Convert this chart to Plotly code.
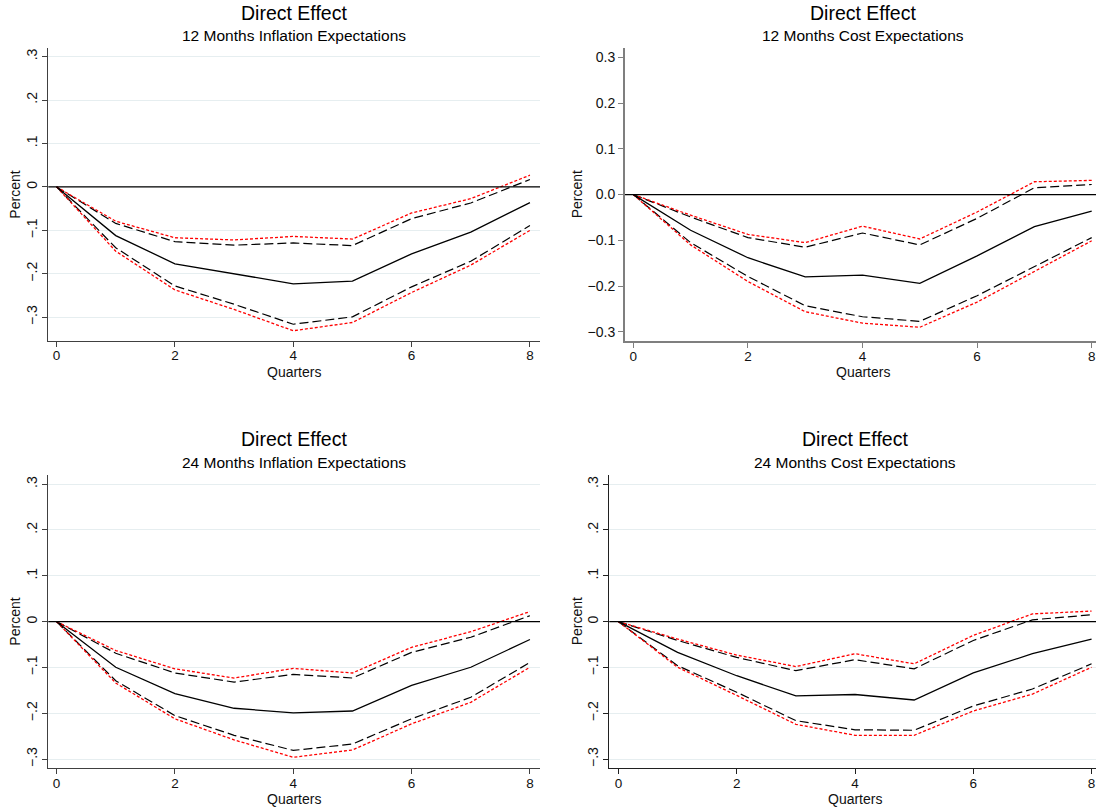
import plotly.graph_objects as go

W, H = 1096, 809

quarters = [0, 1, 2, 3, 4, 5, 6, 7, 8]
x_ticks = [0, 2, 4, 6, 8]
y_ticks = [-0.3, -0.2, -0.1, 0, 0.1, 0.2, 0.3]
y_text_short = ["\u2212.3", "\u2212.2", "\u2212.1", "0", ".1", ".2", ".3"]
y_text_long = ["\u22120.3", "\u22120.2", "\u22120.1", "0.0", "0.1", "0.2", "0.3"]

title_main = "Direct Effect"
subtitles = ["12 Months Inflation Expectations", "12 Months Cost Expectations",
             "24 Months Inflation Expectations", "24 Months Cost Expectations"]

# Panel 1: 12 months inflation expectations
p1_est = [0, -0.112, -0.177, -0.200, -0.223, -0.217, -0.154, -0.104, -0.036]
p1_up_dash = [0, -0.084, -0.126, -0.134, -0.129, -0.135, -0.073, -0.037, 0.017]
p1_up_red = [0, -0.079, -0.117, -0.122, -0.114, -0.120, -0.060, -0.027, 0.027]
p1_lo_dash = [0, -0.140, -0.228, -0.270, -0.316, -0.299, -0.230, -0.171, -0.089]
p1_lo_red = [0, -0.148, -0.237, -0.282, -0.331, -0.312, -0.243, -0.180, -0.100]

# Panel 2: 12 months cost expectations
p2_est = [0, -0.078, -0.138, -0.180, -0.176, -0.194, -0.134, -0.070, -0.036]
p2_up_dash = [0, -0.049, -0.094, -0.115, -0.084, -0.110, -0.052, 0.015, 0.022]
p2_up_red = [0, -0.045, -0.087, -0.105, -0.069, -0.097, -0.038, 0.028, 0.031]
p2_lo_dash = [0, -0.105, -0.179, -0.243, -0.267, -0.277, -0.221, -0.158, -0.094]
p2_lo_red = [0, -0.110, -0.190, -0.256, -0.281, -0.290, -0.235, -0.168, -0.101]

# Panel 3: 24 months inflation expectations
p3_est = [0, -0.0995, -0.157, -0.189, -0.199, -0.195, -0.139, -0.0995, -0.039]
p3_up_dash = [0, -0.069, -0.112, -0.132, -0.115, -0.123, -0.067, -0.034, 0.013]
p3_up_red = [0, -0.063, -0.103, -0.123, -0.102, -0.112, -0.056, -0.022, 0.022]
p3_lo_dash = [0, -0.129, -0.205, -0.248, -0.281, -0.267, -0.212, -0.165, -0.089]
p3_lo_red = [0, -0.134, -0.212, -0.258, -0.296, -0.280, -0.223, -0.176, -0.0995]

# Panel 4: 24 months cost expectations
p4_est = [0, -0.067, -0.118, -0.162, -0.159, -0.171, -0.112, -0.070, -0.038]
p4_up_dash = [0, -0.041, -0.078, -0.107, -0.083, -0.103, -0.041, 0.004, 0.015]
p4_up_red = [0, -0.038, -0.073, -0.098, -0.070, -0.092, -0.030, 0.017, 0.023]
p4_lo_dash = [0, -0.096, -0.154, -0.216, -0.236, -0.237, -0.184, -0.147, -0.092]
p4_lo_red = [0, -0.0995, -0.161, -0.224, -0.248, -0.248, -0.195, -0.158, -0.0995]

panels_data = [
    (p1_est, p1_up_dash, p1_lo_dash, p1_up_red, p1_lo_red),
    (p2_est, p2_up_dash, p2_lo_dash, p2_up_red, p2_lo_red),
    (p3_est, p3_up_dash, p3_lo_dash, p3_up_red, p3_lo_red),
    (p4_est, p4_up_dash, p4_lo_dash, p4_up_red, p4_lo_red),
]

# layout geometry in pixels: plot left, right, top, bottom
geom = [
    dict(l=48.3, r=540, t=48.3, b=341, xr=[-0.14, 8.17], yr=[-0.3546, 0.319],
         cx=294, ty=12.7, sy=35.7, qy=372, px=15, style="short", grid=True, axcol="#404040", axw=1.3),
    dict(l=625, r=1096, t=48.3, b=341, xr=[-0.145, 8.075], yr=[-0.32, 0.3197],
         cx=863, ty=12.7, sy=35.7, qy=372, px=576.7, style="long", grid=False, axcol="#7f7f7f", axw=2),
    dict(l=48.3, r=540, t=475, b=768.3, xr=[-0.14, 8.17], yr=[-0.32, 0.32],
         cx=294, ty=439.3, sy=462.7, qy=799, px=15, style="short", grid=True, axcol="#404040", axw=1.3),
    dict(l=609.3, r=1096, t=475, b=768.3, xr=[-0.155, 8.075], yr=[-0.32, 0.32],
         cx=855, ty=439.3, sy=462.7, qy=799, px=576.7, style="short", grid=True, axcol="#202020", axw=1.3),
]

FONT = "Liberation Sans, Arial, sans-serif"

fig = go.Figure()
layout = dict(width=W, height=H, margin=dict(l=0, r=0, t=0, b=0),
              paper_bgcolor="white", plot_bgcolor="white", showlegend=False,
              font=dict(family=FONT, color="black", size=14))
annotations = []
shapes = []

for i, (data, g) in enumerate(zip(panels_data, geom)):
    k = "" if i == 0 else str(i + 1)
    xa, ya = "x" + k, "y" + k
    est, up_d, lo_d, up_r, lo_r = data
    for ys, color, dash, w in [(up_d, "black", "9px,4px", 1.2), (lo_d, "black", "9px,4px", 1.2),
                               (up_r, "red", "3px,2px", 1.3), (lo_r, "red", "3px,2px", 1.3),
                               (est, "black", "solid", 1.3)]:
        fig.add_trace(go.Scatter(x=quarters, y=ys, mode="lines", xaxis=xa, yaxis=ya,
                                 line=dict(color=color, dash=dash, width=w), hoverinfo="skip"))
    xdom = [g["l"] / W, g["r"] / W]
    ydom = [1 - g["b"] / H, 1 - g["t"] / H]
    layout["xaxis" + k] = dict(domain=xdom, range=g["xr"], anchor=ya, tickvals=x_ticks,
                               showgrid=False, zeroline=False, showline=True,
                               linecolor=g["axcol"], linewidth=g["axw"], ticks="outside",
                               ticklen=5, tickcolor=g["axcol"], tickwidth=1.2,
                               ticklabelstandoff=-3,
                               tickfont=dict(size=13.5, family=FONT, color="#111"))
    ytext = y_text_short if g["style"] == "short" else y_text_long
    layout["yaxis" + k] = dict(domain=ydom, range=g["yr"], anchor=xa, tickvals=y_ticks,
                               ticktext=ytext, tickangle=-90 if g["style"] == "short" else 0,
                               showgrid=g["grid"], gridcolor="#e6eef0", gridwidth=1,
                               zeroline=False, showline=True, linecolor=g["axcol"],
                               linewidth=g["axw"], ticks="outside", ticklen=5,
                               tickcolor=g["axcol"], tickwidth=1.2,
                               tickfont=dict(size=14, family=FONT, color="#111"))
    shapes.append(dict(type="line", xref=xa + " domain", yref=ya, x0=0, x1=1, y0=0, y1=0,
                       line=dict(color="black", width=1.3), layer="above"))
    annotations.append(dict(text=title_main, x=g["cx"] / W, y=1 - g["ty"] / H, xref="paper", yref="paper",
                            xanchor="center", yanchor="middle", showarrow=False,
                            font=dict(size=19.5, family=FONT, color="black")))
    annotations.append(dict(text=subtitles[i], x=g["cx"] / W, y=1 - g["sy"] / H, xref="paper", yref="paper",
                            xanchor="center", yanchor="middle", showarrow=False,
                            font=dict(size=15.5, family=FONT, color="black")))
    annotations.append(dict(text="Quarters", x=(g["l"] + g["r"]) / 2 / W if i % 2 == 0 else g["cx"] / W,
                            y=1 - g["qy"] / H, xref="paper", yref="paper",
                            xanchor="center", yanchor="middle", showarrow=False,
                            font=dict(size=14, family=FONT, color="#111")))
    annotations.append(dict(text="Percent", x=g["px"] / W, y=1 - (g["t"] + g["b"]) / 2 / H,
                            xref="paper", yref="paper", textangle=-90,
                            xanchor="center", yanchor="middle", showarrow=False,
                            font=dict(size=14, family=FONT, color="#111")))

layout["annotations"] = annotations
layout["shapes"] = shapes
fig.update_layout(**layout)
fig.write_html("out.html")
